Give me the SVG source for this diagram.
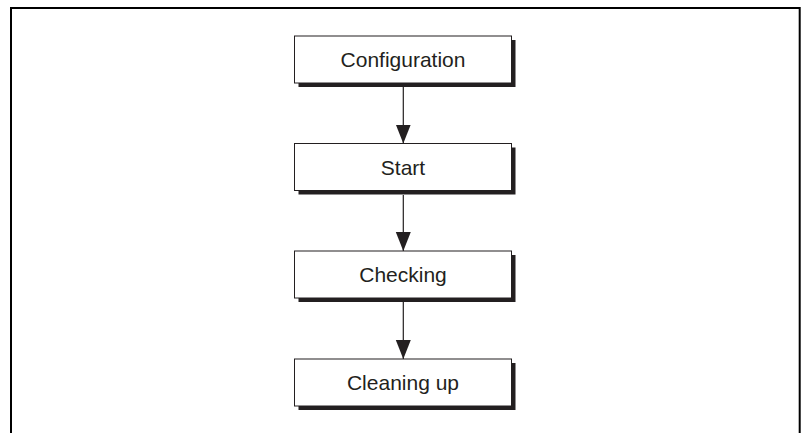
<svg xmlns="http://www.w3.org/2000/svg" width="802" height="433" viewBox="0 0 802 433">
<style>
.frame{fill:none;stroke:#000;stroke-width:2}
.box{fill:#fff;stroke:#231f20;stroke-width:1}
.shadow{fill:#231f20}
.lbl{font-family:"Liberation Sans",Arial,sans-serif;font-size:21px;fill:#231f20;text-anchor:middle}
.conn{stroke:#231f20;stroke-width:1.2;fill:none}
</style>
<defs>
<marker id="ah" markerUnits="userSpaceOnUse" markerWidth="20" markerHeight="16" refX="19" refY="7.5" orient="auto">
<path d="M0,0 L19,7.5 L0,15 Z" fill="#231f20"/>
</marker>
</defs>
<polyline class="frame" points="11,433 11,8 799.7,8 799.7,433"/>
<g id="connectors">
<line class="conn" x1="403.3" y1="87" x2="403.3" y2="143.5" marker-end="url(#ah)"/>
<line class="conn" x1="403.3" y1="195" x2="403.3" y2="251" marker-end="url(#ah)"/>
<line class="conn" x1="403.3" y1="302" x2="403.3" y2="359" marker-end="url(#ah)"/>
</g>
<g id="configuration">
<rect class="shadow" x="298.5" y="40" width="217" height="47"/>
<rect class="box" x="294.5" y="36" width="217" height="47"/>
<text class="lbl" x="403" y="67">Configuration</text>
</g>
<g id="start">
<rect class="shadow" x="298.5" y="147.5" width="217" height="47"/>
<rect class="box" x="294.5" y="143.5" width="217" height="47"/>
<text class="lbl" x="403" y="174.5">Start</text>
</g>
<g id="checking">
<rect class="shadow" x="298.5" y="255" width="217" height="47"/>
<rect class="box" x="294.5" y="251" width="217" height="47"/>
<text class="lbl" x="403" y="282">Checking</text>
</g>
<g id="cleaning-up">
<rect class="shadow" x="298.5" y="363" width="217" height="47"/>
<rect class="box" x="294.5" y="359" width="217" height="47"/>
<text class="lbl" x="403" y="390">Cleaning up</text>
</g>
</svg>
